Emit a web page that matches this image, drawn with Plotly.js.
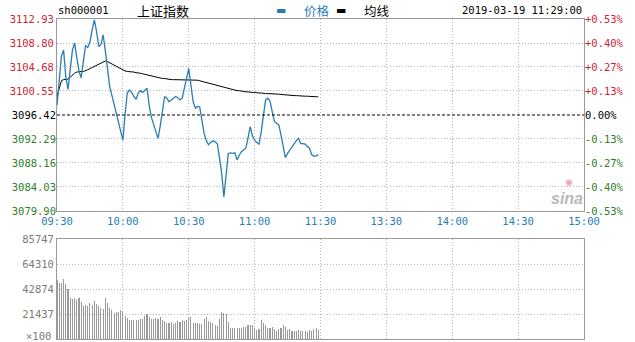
<!DOCTYPE html>
<html>
<head>
<meta charset="utf-8">
<script src="https://cdn.plot.ly/plotly-3.0.1.min.js"></script>
<style>
html,body{margin:0;padding:0;background:#fff;}
#chart{width:635px;height:342px;}
</style>
</head>
<body>
<div id="chart"></div>
<script>
// ---- data ----
const symbol = 'sh000001';
const indexName = '上证指数';
const stamp = '2019-03-19 11:29:00';
const prevClose = 3096.42;

const timeTickPos = [0, 30, 60, 90, 120, 150, 180, 210, 240];
const timeTickLabels = ['09:30','10:00','10:30','11:00','11:30','13:30','14:00','14:30','15:00'];

const priceTicks = [3079.90, 3084.03, 3088.16, 3092.29, 3096.42, 3100.55, 3104.68, 3108.80, 3112.93];

const price = [
 3098.1,3102.5,3106.5,3107.6,3103.0,3100.8,3104.0,3107.5,3108.8,3106.5,
 3104.0,3102.8,3105.5,3108.4,3108.0,3109.0,3111.0,3112.8,3110.8,3108.2,
 3108.5,3110.2,3107.5,3104.0,3101.3,3099.8,3098.3,3096.8,3095.5,3094.0,
 3092.1,3096.5,3100.2,3100.7,3100.3,3099.6,3099.1,3100.2,3100.6,3100.3,
 3100.7,3101.0,3098.0,3096.0,3094.8,3093.5,3092.4,3094.5,3097.0,3099.6,
 3099.3,3098.7,3099.0,3099.3,3099.6,3099.4,3099.0,3099.3,3101.0,3103.0,
 3104.4,3101.5,3098.7,3097.6,3097.9,3097.8,3095.5,3093.2,3092.0,3091.3,
 3091.7,3092.0,3091.8,3091.5,3089.0,3086.4,3082.3,3086.0,3089.8,3089.9,
 3089.8,3089.9,3088.7,3089.5,3090.1,3090.4,3090.7,3092.5,3094.4,3092.8,
 3092.1,3091.7,3091.4,3093.5,3096.5,3099.0,3099.3,3098.8,3097.0,3095.3,
 3095.0,3094.7,3093.0,3090.8,3089.1,3089.8,3090.4,3091.0,3091.5,3092.0,
 3092.4,3091.5,3091.5,3091.4,3091.0,3090.7,3089.6,3089.3,3089.4,3089.6
];

const avgLine = [
 3099.6,3101.0,3102.3,3102.5,3102.5,3102.6,3102.9,3103.3,3103.6,3103.8,
 3103.9,3103.9,3103.9,3104.0,3104.2,3104.4,3104.6,3104.8,3105.0,3105.2,
 3105.4,3105.6,3105.7,3105.6,3105.4,3105.2,3105.0,3104.8,3104.6,3104.3,
 3104.1,3104.0,3103.9,3103.9,3103.8,3103.8,3103.7,3103.7,3103.6,3103.5,
 3103.4,3103.3,3103.2,3103.1,3103.0,3102.9,3102.8,3102.8,3102.7,3102.7,
 3102.6,3102.6,3102.5,3102.5,3102.5,3102.5,3102.4,3102.4,3102.4,3102.4,
 3102.5,3102.5,3102.4,3102.4,3102.4,3102.3,3102.2,3102.1,3102.0,3101.9,
 3101.8,3101.7,3101.6,3101.5,3101.4,3101.3,3101.1,3101.0,3100.9,3100.8,
 3100.8,3100.7,3100.6,3100.6,3100.5,3100.5,3100.4,3100.4,3100.3,3100.3,
 3100.3,3100.2,3100.2,3100.2,3100.1,3100.1,3100.1,3100.1,3100.0,3100.0,
 3100.0,3100.0,3099.95,3099.9,3099.9,3099.85,3099.8,3099.8,3099.75,3099.75,
 3099.7,3099.7,3099.7,3099.65,3099.65,3099.6,3099.6,3099.6,3099.55,3099.55
];

const volume = [
 50600,47700,48300,51200,46900,42600,34900,34300,35400,33400,
 34900,32000,28300,29200,28300,31200,29200,32900,30000,28300,
 26300,25400,34900,31200,26300,24900,22600,23400,23400,24900,
 24000,20000,18000,16300,16300,16300,16300,16300,16900,16900,
 19700,21400,18600,16900,16900,17700,16900,19100,16300,15700,
 14000,13400,14900,12900,14000,15700,14900,16300,15700,16300,
 17700,18600,14000,14000,13400,12900,12900,17500,19100,15700,
 14900,13400,12000,11100,16900,23400,22600,21400,14900,9100,
 9100,9100,9100,9100,9100,10000,10600,12000,12000,12000,
 9100,7700,8300,16300,13400,12000,9100,9100,10000,8300,
 7100,8300,9100,12000,10600,7700,8300,7100,7100,7100,
 7700,7100,7100,7100,6300,7700,7100,8300,9100,7700
];

const volTicks = [0, 21437, 42874, 64310, 85747];
const volTickLabels = ['', '21437', '42874', '64310', '85747'];
const volUnitLabel = '×100';

const legendNames = ['价格', '均线'];

// ---- styling ----
const MONO = '"DejaVu Sans Mono", "Liberation Mono", monospace';
const CJK = '"Noto Sans CJK SC", sans-serif';
const BLUE = '#2a7db4';
const RED = '#cc1f35';
const GREEN = '#2f7f2a';
const GRID = '#b8b8b8';
const GDASH = '1px,2px';
const BORDER = '#9a9a9a';
const FS = 10.5;

const minutes = price.map((_, i) => i);
const volMinutes = volume.map((_, i) => i);

const upTicks = priceTicks.filter(t => t > prevClose);
const flatTicks = priceTicks.filter(t => t === prevClose);
const downTicks = priceTicks.filter(t => t < prevClose);
const pct = t => {
  const v = (t - prevClose) / prevClose * 100;
  if (Math.abs(v) < 0.0001) return '0.00%';
  return (v > 0 ? '+' : '') + v.toFixed(2) + '%';
};
const pRange = [priceTicks[0], priceTicks[priceTicks.length - 1]];

const traces = [
  { x: minutes, y: avgLine, type: 'scatter', mode: 'lines', name: legendNames[1],
    line: { color: '#000', width: 1 }, xaxis: 'x', yaxis: 'y', hoverinfo: 'skip' },
  { x: minutes, y: price, type: 'scatter', mode: 'lines', name: legendNames[0],
    line: { color: BLUE, width: 1.3 }, xaxis: 'x', yaxis: 'y', hoverinfo: 'skip' },
  { x: volMinutes, y: volume, type: 'bar', name: 'vol', width: 0.5,
    marker: { color: '#9a9a9a', line: { width: 0 } }, xaxis: 'x2', yaxis: 'y2', hoverinfo: 'skip' }
];
// carrier traces so the overlaid label axes are drawn
['y3', 'y4', 'y5', 'y6', 'y7'].forEach(ax => {
  traces.push({ x: [minutes[0]], y: [prevClose], type: 'scatter', mode: 'lines',
    xaxis: 'x', yaxis: ax, hoverinfo: 'skip', showlegend: false, line: { width: 0 } });
});

const baseY = {
  range: pRange, anchor: 'x', ticks: '', showline: false, zeroline: false,
  fixedrange: true, autorange: false
};

const layout = {
  width: 635, height: 342,
  margin: { l: 57, r: 51, t: 19, b: 3, pad: 0 },
  paper_bgcolor: '#fff', plot_bgcolor: '#fff',
  showlegend: false,
  bargap: 0,
  font: { family: MONO, size: FS, color: '#000' },
  xaxis: {
    domain: [0, 1], anchor: 'y', range: [0, 240],
    tickmode: 'array', tickvals: timeTickPos, ticktext: timeTickLabels,
    tickfont: { family: MONO, size: FS, color: BLUE },
    ticks: '', showgrid: true, griddash: GDASH, gridcolor: GRID, gridwidth: 1,
    showline: true, mirror: true, linecolor: BORDER, linewidth: 1, zeroline: false
  },
  xaxis2: {
    domain: [0, 1], anchor: 'y2', range: [0, 240], matches: 'x',
    tickmode: 'array', tickvals: timeTickPos, showticklabels: false,
    ticks: '', showgrid: true, griddash: GDASH, gridcolor: GRID,
    showline: true, mirror: true, linecolor: BORDER, linewidth: 1, zeroline: false
  },
  yaxis: Object.assign({}, baseY, {
    domain: [0.4, 1],
    tickmode: 'array', tickvals: upTicks, ticktext: upTicks.map(t => t.toFixed(2)),
    tickfont: { family: MONO, size: FS, color: RED },
    showgrid: true, griddash: GDASH, gridcolor: GRID,
    showline: true, mirror: true, linecolor: BORDER
  }),
  yaxis3: Object.assign({}, baseY, {
    overlaying: 'y',
    tickmode: 'array', tickvals: flatTicks, ticktext: flatTicks.map(t => t.toFixed(2)),
    tickfont: { family: MONO, size: FS, color: '#000' }, showgrid: false
  }),
  yaxis4: Object.assign({}, baseY, {
    overlaying: 'y',
    tickmode: 'array', tickvals: downTicks, ticktext: downTicks.map(t => t.toFixed(2)),
    tickfont: { family: MONO, size: FS, color: GREEN },
    showgrid: true, griddash: GDASH, gridcolor: GRID
  }),
  yaxis5: Object.assign({}, baseY, {
    overlaying: 'y', side: 'right',
    tickmode: 'array', tickvals: upTicks, ticktext: upTicks.map(pct),
    tickfont: { family: MONO, size: FS, color: RED }, showgrid: false
  }),
  yaxis6: Object.assign({}, baseY, {
    overlaying: 'y', side: 'right',
    tickmode: 'array', tickvals: flatTicks, ticktext: flatTicks.map(pct),
    tickfont: { family: MONO, size: FS, color: '#000' }, showgrid: false
  }),
  yaxis7: Object.assign({}, baseY, {
    overlaying: 'y', side: 'right',
    tickmode: 'array', tickvals: downTicks, ticktext: downTicks.map(pct),
    tickfont: { family: MONO, size: FS, color: GREEN }, showgrid: false
  }),
  yaxis2: {
    domain: [0, 0.3125], anchor: 'x2', range: [volTicks[0], volTicks[volTicks.length - 1]],
    tickmode: 'array', tickvals: volTicks, ticktext: volTickLabels,
    tickfont: { family: MONO, size: FS, color: '#7a7a7a' },
    ticks: '', showgrid: true, griddash: GDASH, gridcolor: GRID,
    showline: true, mirror: true, linecolor: BORDER, zeroline: false, fixedrange: true
  },
  shapes: [
    { type: 'line', xref: 'x domain', yref: 'y', x0: 0, x1: 1, y0: prevClose, y1: prevClose,
      line: { color: '#000', width: 1, dash: '3px,2px' } }
  ],
  annotations: [
    { text: symbol, xref: 'paper', yref: 'paper', x: -0.002, y: 1.027, xanchor: 'left', yanchor: 'middle',
      showarrow: false, font: { family: MONO, size: FS, color: '#000' } },
    { text: indexName, xref: 'paper', yref: 'paper', x: 0.201, y: 1.027, xanchor: 'center', yanchor: 'middle',
      showarrow: false, font: { family: CJK, size: 13, color: '#000' } },
    { text: '<b>▬</b>', xref: 'paper', yref: 'paper', x: 0.425, y: 1.027, xanchor: 'center', yanchor: 'middle',
      showarrow: false, font: { family: 'DejaVu Sans', size: 11, color: BLUE } },
    { text: legendNames[0], xref: 'paper', yref: 'paper', x: 0.465, y: 1.027, xanchor: 'left', yanchor: 'middle',
      showarrow: false, font: { family: CJK, size: 12.5, color: BLUE } },
    { text: '<b>▬</b>', xref: 'paper', yref: 'paper', x: 0.539, y: 1.027, xanchor: 'center', yanchor: 'middle',
      showarrow: false, font: { family: 'DejaVu Sans', size: 11, color: '#000' } },
    { text: legendNames[1], xref: 'paper', yref: 'paper', x: 0.578, y: 1.027, xanchor: 'left', yanchor: 'middle',
      showarrow: false, font: { family: CJK, size: 12.5, color: '#000' } },
    { text: stamp, xref: 'paper', yref: 'paper', x: 1.0, y: 1.027, xanchor: 'right', yanchor: 'middle',
      showarrow: false, font: { family: MONO, size: FS, color: '#000' } },
    { text: volUnitLabel, xref: 'paper', yref: 'y2', x: 0, y: volTicks[0], xanchor: 'right', yanchor: 'bottom',
      xshift: -4, yshift: -5, showarrow: false, font: { family: MONO, size: FS, color: '#7a7a7a' } },
    { text: '<i><b>sina</b></i>', xref: 'paper', yref: 'paper', x: 0.968, y: 0.44, xanchor: 'center', yanchor: 'middle',
      showarrow: false, font: { family: 'Liberation Sans', size: 16, color: '#b8b8b8' } },
    { text: '◉', xref: 'paper', yref: 'paper', x: 0.972, y: 0.49, xanchor: 'center', yanchor: 'middle',
      showarrow: false, font: { family: 'DejaVu Sans', size: 9, color: '#f0a0a8' } }
  ]
};

Plotly.newPlot('chart', traces, layout, { staticPlot: true, displayModeBar: false });
</script>
</body>
</html>
